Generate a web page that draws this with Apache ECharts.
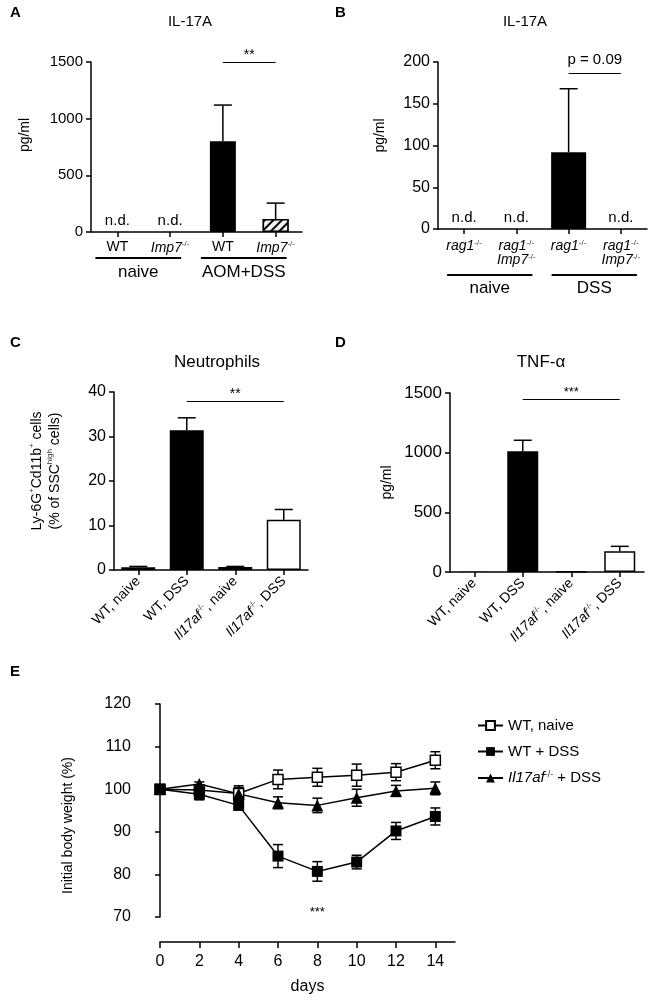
<!DOCTYPE html>
<html><head><meta charset="utf-8">
<script src="https://cdn.jsdelivr.net/npm/echarts@6/dist/echarts.min.js"></script>
<style>html,body{margin:0;padding:0;background:#fff}#c{width:650px;height:1000px}</style>
</head><body><div id="c"></div>
<script>
// ---------- DATA ----------
// Panel A: IL-17A (AOM+DSS)
const aCategories = ['WT', 'Imp7-/-', 'WT', 'Imp7-/-'];
const aValues = [0, 0, 800, 115];
const aErrors = [0, 0, 320, 140];
const aNotDetected = [true, true, false, false];
const aGroups = ['naive', 'AOM+DSS'];
const aSig = '**';
// Panel B: IL-17A (DSS, rag1)
const bCategories = ['rag1-/-', 'rag1-/-\nImp7-/-', 'rag1-/-', 'rag1-/-\nImp7-/-'];
const bValues = [0, 0, 92, 0];
const bErrors = [0, 0, 76, 0];
const bNotDetected = [true, true, false, true];
const bGroups = ['naive', 'DSS'];
const bSig = 'p = 0.09';
// Panel C: Neutrophils
const cCategories = ['WT, naive', 'WT, DSS', 'Il17af-/-, naive', 'Il17af-/-, DSS'];
const cValues = [0.6, 31.4, 0.7, 11.3];
const cErrors = [0.2, 2.8, 0.1, 2.3];
const cSig = '**';
// Panel D: TNF-alpha
const dCategories = ['WT, naive', 'WT, DSS', 'Il17af-/-, naive', 'Il17af-/-, DSS'];
const dValues = [2, 1012, 5, 173];
const dErrors = [0, 92, 0, 42];
const dSig = '***';
// Panel E: body weight
const eDays = [0, 2, 4, 6, 8, 10, 12, 14];
const eSeriesNames = ['WT, naive', 'WT + DSS', 'Il17af-/- + DSS'];
const eWTNaive = [100, 99.8, 99.0, 102.3, 102.8, 103.3, 104.0, 106.8];
const eWTNaiveErr = [0.5, 0.6, 1.8, 2.2, 2.1, 2.6, 2.0, 2.0];
const eWTDSS = [100, 98.8, 96.2, 84.3, 80.7, 82.9, 90.2, 93.6];
const eWTDSSErr = [0.4, 1.3, 1.0, 2.7, 2.3, 1.6, 2.0, 2.0];
const eKO = [100, 101.2, 98.9, 96.8, 96.2, 98.0, 99.6, 100.2];
const eKOErr = [0.3, 0.5, 1.5, 1.4, 1.7, 2.0, 1.3, 1.5];
const eDayTicks = [0, 2, 4, 6, 8, 10, 12, 14];
const eSig = '***';

// ---------- STYLE ----------
const FONT = "'Liberation Sans', Arial, Helvetica, sans-serif";
const K = '#000';

function richName(name) {
  return name.split('\n').map(line => line.replace(/^([A-Za-z0-9]+)-\/-(.*)$/, (m, g, rest) =>
    '{i|' + g + '}{s|-/-}' + (rest ? '{n|' + rest + '}' : ''))).join('\n');
}
function rich(fs, lh) {
  return {
    i: {fontStyle: 'italic', fontSize: fs, fontFamily: FONT, color: K, lineHeight: lh},
    s: {fontSize: Math.round(fs * 0.6), fontFamily: FONT, color: '#333', verticalAlign: 'top', lineHeight: lh},
    n: {fontSize: fs, fontFamily: FONT, color: K, lineHeight: lh}
  };
}
function yAxisCfg(gi, min, max, interval, fs, name, nameGap, pad, extra) {
  return Object.assign({
    type: 'value', gridIndex: gi, min: min, max: max, interval: interval,
    axisLine: {show: true, lineStyle: {color: K, width: 1.5}},
    axisTick: {show: true, length: 5, lineStyle: {color: K, width: 1.5}},
    axisLabel: {fontFamily: FONT, color: K, fontSize: fs, margin: 8, formatter: v => String(v)},
    splitLine: {show: false},
    name: name, nameLocation: 'middle', nameGap: nameGap, nameRotate: 90,
    nameTextStyle: {fontFamily: FONT, color: K, fontSize: 14, padding: pad, rich: rich(14, 18)}
  }, extra || {});
}
function xCatCfg(gi, cats, fs, rotate, margin, lh) {
  return {
    type: 'category', gridIndex: gi, data: cats,
    axisLine: {show: true, lineStyle: {color: K, width: 1.5}},
    axisTick: {show: true, alignWithLabel: true, length: 5, lineStyle: {color: K, width: 1.5}},
    axisLabel: {fontFamily: FONT, color: K, fontSize: fs, rotate: rotate, margin: margin, interval: 0,
      formatter: v => richName(v), rich: rich(fs, lh)},
    splitLine: {show: false}
  };
}
function barData(vals, nd, styleFn) {
  return vals.map((v, i) => {
    const item = {value: v, itemStyle: styleFn(i)};
    if (nd && nd[i]) {
      item.label = {show: true, position: 'top', distance: 4, formatter: 'n.d.',
        fontFamily: FONT, fontSize: 15, color: K};
    }
    return item;
  });
}
function errSeries(gi, vals, errs, capHalf) {
  return {
    type: 'custom', xAxisIndex: gi, yAxisIndex: gi, z: 5, silent: true,
    data: vals.map((v, i) => [i, v, v + errs[i]]).filter((d, i) => errs[i] > 0),
    encode: {x: 0, y: [1, 2]},
    renderItem: (params, api) => {
      const p0 = api.coord([api.value(0), api.value(1)]);
      const p1 = api.coord([api.value(0), api.value(2)]);
      const st = {stroke: K, lineWidth: 1.5};
      return {type: 'group', children: [
        {type: 'line', shape: {x1: p0[0], y1: p0[1], x2: p1[0], y2: p1[1]}, style: st},
        {type: 'line', shape: {x1: p1[0] - capHalf, y1: p1[1], x2: p1[0] + capHalf, y2: p1[1]}, style: st}
      ]};
    }
  };
}
function errSeriesE(vals, errs) {
  return {
    type: 'custom', xAxisIndex: 4, yAxisIndex: 4, z: 1, silent: true,
    data: eDays.map((d, i) => [d, vals[i] - errs[i], vals[i] + errs[i]]),
    encode: {x: 0, y: [1, 2]},
    renderItem: (params, api) => {
      const lo = api.coord([api.value(0), api.value(1)]);
      const hi = api.coord([api.value(0), api.value(2)]);
      const w = 5, st = {stroke: K, lineWidth: 1.5};
      return {type: 'group', children: [
        {type: 'line', shape: {x1: lo[0], y1: lo[1], x2: hi[0], y2: hi[1]}, style: st},
        {type: 'line', shape: {x1: lo[0] - w, y1: lo[1], x2: lo[0] + w, y2: lo[1]}, style: st},
        {type: 'line', shape: {x1: hi[0] - w, y1: hi[1], x2: hi[0] + w, y2: hi[1]}, style: st}
      ]};
    }
  };
}
function sigLine(x0, x1, y, text, fs, dist) {
  return {
    symbol: 'none', silent: true, animation: false,
    lineStyle: {color: K, width: 1.2, type: 'solid'},
    label: {show: true, position: 'insideMiddleTop', formatter: text, color: K,
      fontFamily: FONT, fontSize: fs, distance: dist},
    data: [[{coord: [x0, y]}, {coord: [x1, y]}]]
  };
}

const black = () => ({color: K, borderWidth: 0});
const whiteBox = () => ({color: '#fff', borderColor: K, borderWidth: 1.5});

const chart = echarts.init(document.getElementById('c'), null, {renderer: 'canvas'});
const option = {
  animation: false,
  backgroundColor: '#fff',
  textStyle: {fontFamily: FONT, color: K},
  grid: [
    {left: 91, top: 62, width: 211, height: 170},
    {left: 438, top: 62, width: 209, height: 167},
    {left: 114, top: 392, width: 194, height: 178},
    {left: 450, top: 393, width: 194, height: 179},
    {left: 160, top: 704, width: 295, height: 213}
  ],
  xAxis: [
    xCatCfg(0, aCategories, 14, 0, 8, 16),
    xCatCfg(1, bCategories, 14, 0, 10, 14),
    xCatCfg(2, cCategories, 14, 45, 9, 16),
    xCatCfg(3, dCategories, 14, 45, 9, 16),
    {
      type: 'value', gridIndex: 4, min: 0, max: 15, offset: 25,
      axisLine: {show: true, lineStyle: {color: K, width: 1.5}},
      axisTick: {show: true, length: 6, customValues: eDayTicks, lineStyle: {color: K, width: 1.5}},
      axisLabel: {fontFamily: FONT, color: K, fontSize: 16, margin: 12, customValues: eDayTicks},
      splitLine: {show: false},
      name: 'days', nameLocation: 'middle', nameGap: 37,
      nameTextStyle: {fontFamily: FONT, color: K, fontSize: 16}
    }
  ],
  yAxis: [
    yAxisCfg(0, 0, 1500, 500, 15, 'pg/ml', 59, [0, 0, 0, 24]),
    yAxisCfg(1, 0, 200, 50, 16, 'pg/ml', 51, [0, 0, 0, 20]),
    yAxisCfg(2, 0, 40, 10, 16,
      'Ly-6G{s|+}Cd11b{s|+} cells\n(% of SSC{s|high} cells)', 50, [0, 0, 0, 20]),
    yAxisCfg(3, 0, 1500, 500, 17, 'pg/ml', 56, [0, 0, 0, 0]),
    yAxisCfg(4, 70, 120, 10, 16, 'Initial body weight (%)', 64, [0, 30, 0, 0], {offset: 21})
  ],
  legend: {
    data: eSeriesNames, orient: 'vertical', left: 472, top: 713, itemGap: 11,
    itemWidth: 25, itemHeight: 11, selectedMode: false,
    textStyle: {fontFamily: FONT, fontSize: 15, color: K, rich: rich(15, 16)},
    formatter: n => richName(n)
  },
  series: [
    // Panel A
    {type: 'bar', xAxisIndex: 0, yAxisIndex: 0, barWidth: 26,
      data: barData(aValues, aNotDetected, i => i === 3 ? {
        color: '#fff', borderColor: K, borderWidth: 1.5,
        decal: {symbol: 'rect', symbolSize: 1, dashArrayX: [[1, 0]], dashArrayY: [1.5, 3.5],
          rotation: -Math.PI / 4, color: K, backgroundColor: '#f4f4f4'}
      } : {color: K, borderWidth: 0}),
      markLine: sigLine(2, 3, 1500, aSig, 14, 0)},
    errSeries(0, aValues, aErrors, 9),
    // Panel B
    {type: 'bar', xAxisIndex: 1, yAxisIndex: 1, barWidth: 35,
      data: barData(bValues, bNotDetected, black),
      markLine: sigLine(2, 3, 186, bSig, 15, 6)},
    errSeries(1, bValues, bErrors, 9),
    // Panel C
    {type: 'bar', xAxisIndex: 2, yAxisIndex: 2, barWidth: 34,
      data: barData(cValues, null, i => i < 2 ? black() : whiteBox()),
      markLine: sigLine(1, 3, 38, cSig, 14, 0)},
    errSeries(2, cValues, cErrors, 9),
    // Panel D
    {type: 'bar', xAxisIndex: 3, yAxisIndex: 3, barWidth: 31,
      data: barData(dValues, null, i => i < 2 ? black() : whiteBox()),
      markLine: sigLine(1, 3, 1450, dSig, 13, 0)},
    errSeries(3, dValues, dErrors, 9),
    // Panel E
    errSeriesE(eWTNaive, eWTNaiveErr),
    errSeriesE(eWTDSS, eWTDSSErr),
    errSeriesE(eKO, eKOErr),
    {type: 'line', name: eSeriesNames[0], xAxisIndex: 4, yAxisIndex: 4, z: 3,
      data: eDays.map((d, i) => [d, eWTNaive[i]]),
      symbol: 'rect', symbolSize: 10, showAllSymbol: true,
      lineStyle: {color: K, width: 1.5},
      itemStyle: {color: '#fff', borderColor: K, borderWidth: 1.5}},
    {type: 'line', name: eSeriesNames[1], xAxisIndex: 4, yAxisIndex: 4, z: 3,
      data: eDays.map((d, i) => [d, eWTDSS[i]]),
      symbol: 'rect', symbolSize: 11, showAllSymbol: true,
      lineStyle: {color: K, width: 1.5},
      itemStyle: {color: K, borderColor: K, borderWidth: 0},
      markPoint: {silent: true, symbol: 'circle', symbolSize: 1,
        itemStyle: {color: 'rgba(0,0,0,0)'},
        label: {show: true, position: 'inside', formatter: eSig, color: K, fontFamily: FONT, fontSize: 13},
        data: [{coord: [8, 71]}]}},
    {type: 'line', name: eSeriesNames[2], xAxisIndex: 4, yAxisIndex: 4, z: 3,
      data: eDays.map((d, i) => [d, eKO[i]]),
      symbol: 'triangle', symbolSize: 12, showAllSymbol: true,
      lineStyle: {color: K, width: 1.5},
      itemStyle: {color: K, borderColor: K, borderWidth: 0}}
  ]
};
chart.setOption(option);

// ---------- annotations (letters, titles, group brackets) ----------
function txt(x, y, text, font, align) {
  return {type: 'text', x: x, y: y, silent: true,
    style: {text: text, font: font, fill: K, align: align || 'center', verticalAlign: 'middle',
      textAlign: align || 'center', textVerticalAlign: 'middle'}};
}
const g = [
  txt(10, 13, 'A', 'bold 15px ' + FONT, 'left'),
  txt(335, 13, 'B', 'bold 15px ' + FONT, 'left'),
  txt(10, 343, 'C', 'bold 15px ' + FONT, 'left'),
  txt(335, 343, 'D', 'bold 15px ' + FONT, 'left'),
  txt(10, 672, 'E', 'bold 15px ' + FONT, 'left'),
  txt(190, 22, 'IL-17A', '15px ' + FONT),
  txt(525, 22, 'IL-17A', '15px ' + FONT),
  txt(217, 362, 'Neutrophils', '17px ' + FONT),
  txt(541, 362, 'TNF-α', '17px ' + FONT)
];
function bracket(gi, i0, i1, leftOff, rightOff, dyLine, dyText, label) {
  const p0 = chart.convertToPixel({gridIndex: gi}, [i0, 0]);
  const p1 = chart.convertToPixel({gridIndex: gi}, [i1, 0]);
  const xa = p0[0] - leftOff, xb = p1[0] + rightOff, y = p0[1] + dyLine;
  g.push({type: 'line', silent: true, shape: {x1: xa, y1: y, x2: xb, y2: y}, style: {stroke: K, lineWidth: 2}});
  g.push(txt((xa + xb) / 2, p0[1] + dyText, label, '17px ' + FONT));
}
bracket(0, 0, 1, 22, 11, 26, 40, aGroups[0]);
bracket(0, 2, 3, 22, 11, 26, 40, aGroups[1]);
bracket(1, 0, 1, 17, 16, 46, 59, bGroups[0]);
bracket(1, 2, 3, 17, 16, 46, 59, bGroups[1]);
chart.setOption({graphic: g});
</script>
</body></html>
